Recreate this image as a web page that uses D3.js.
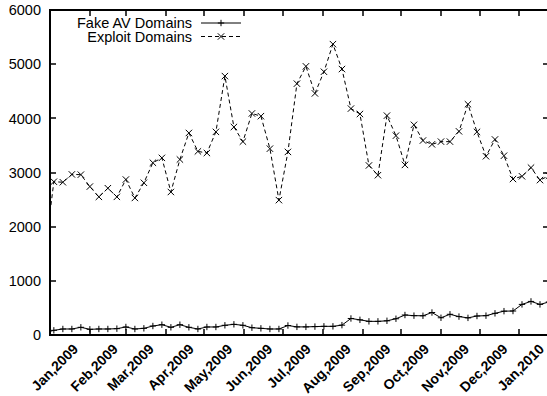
<!DOCTYPE html>
<html>
<head>
<meta charset="utf-8">
<script src="https://cdn.jsdelivr.net/npm/d3@7"></script>
<style>
  body { margin: 0; background: #fff; }
  svg { display: block; }
</style>
</head>
<body>
<svg id="chart" width="547" height="396"></svg>
<script>
// Weekly samples (Sundays)
const weeks = [
  "2008-12-28",
  "2009-01-04","2009-01-11","2009-01-18","2009-01-25",
  "2009-02-01","2009-02-08","2009-02-15","2009-02-22",
  "2009-03-01","2009-03-08","2009-03-15","2009-03-22","2009-03-29",
  "2009-04-05","2009-04-12","2009-04-19","2009-04-26",
  "2009-05-03","2009-05-10","2009-05-17","2009-05-24","2009-05-31",
  "2009-06-07","2009-06-14","2009-06-21","2009-06-28",
  "2009-07-05","2009-07-12","2009-07-19","2009-07-26",
  "2009-08-02","2009-08-09","2009-08-16","2009-08-23","2009-08-30",
  "2009-09-06","2009-09-13","2009-09-20","2009-09-27",
  "2009-10-04","2009-10-11","2009-10-18","2009-10-25",
  "2009-11-01","2009-11-08","2009-11-15","2009-11-22","2009-11-29",
  "2009-12-06","2009-12-13","2009-12-20","2009-12-27",
  "2010-01-03","2010-01-10","2010-01-17","2010-01-24"
];

const fakeAV = [
  40,
  86, 111, 111, 142,
  105, 111, 111, 117,
  148, 111, 123, 166, 190,
  142, 190, 142, 111,
  148, 148, 179, 197, 179,
  135, 123, 111, 111,
  175, 150, 150, 155,
  160, 160, 182, 305, 280,
  252, 252, 262, 300,
  369, 357, 355, 415,
  318, 382, 340, 316, 351,
  357, 400, 440, 443,
  565, 620, 565, 610
];

const exploit = [
  1500,
  2830, 2820, 2965, 2960,
  2740, 2550, 2710, 2550,
  2870, 2530, 2810, 3180, 3270,
  2640, 3240, 3730, 3390,
  3360, 3750, 4780, 3840, 3570,
  4090, 4040, 3440, 2490,
  3380, 4640, 4960, 4460,
  4860, 5370, 4910, 4180, 4080,
  3130, 2950, 4050, 3680,
  3140, 3880, 3590, 3520,
  3570, 3570, 3760, 4260, 3750,
  3300, 3610, 3310, 2880,
  2930, 3090, 2860, 2940
];

const seriesNames = ["Fake AV Domains", "Exploit Domains"];

const monthTicks = [
  "2009-01-01","2009-02-01","2009-03-01","2009-04-01","2009-05-01","2009-06-01",
  "2009-07-01","2009-08-01","2009-09-01","2009-10-01","2009-11-01","2009-12-01","2010-01-01"
];
const monthLabels = [
  "Jan,2009","Feb,2009","Mar,2009","Apr,2009","May,2009","Jun,2009",
  "Jul,2009","Aug,2009","Sep,2009","Oct,2009","Nov,2009","Dec,2009","Jan,2010"
];
const yTicks = [0, 1000, 2000, 3000, 4000, 5000, 6000];
const xRange = ["2009-01-01", "2010-01-24"];
const yRange = [0, 6000];

const parse = d3.timeParse("%Y-%m-%d");
const dates = weeks.map(parse);

const W = 547;
const L = 50, R = 549, T = 10, B = 335;
const x = d3.scaleTime().domain(xRange.map(parse)).range([L, R]);
const y = d3.scaleLinear().domain(yRange).range([B, T]);

const svg = d3.select("#chart");
const font = "'Liberation Sans', Arial, Helvetica, sans-serif";

svg.append("defs").append("clipPath").attr("id", "plot-clip")
  .append("rect").attr("x", L).attr("y", T).attr("width", R - L).attr("height", B - T);

// Tick marks (inward, mirrored on all four sides)
const tickLen = 6;
const ticks = svg.append("g").attr("stroke", "#000").attr("stroke-width", 1.5);
monthTicks.map(parse).forEach(d => {
  const px = Math.round(x(d));
  ticks.append("line").attr("x1", px).attr("x2", px).attr("y1", B).attr("y2", B - tickLen);
  ticks.append("line").attr("x1", px).attr("x2", px).attr("y1", T).attr("y2", T + tickLen);
});
yTicks.forEach(v => {
  const py = Math.round(y(v));
  ticks.append("line").attr("x1", L).attr("x2", L + tickLen).attr("y1", py).attr("y2", py);
  ticks.append("line").attr("x1", R).attr("x2", R - tickLen).attr("y1", py).attr("y2", py);
});

// Y tick labels
svg.append("g").selectAll("text").data(yTicks).join("text")
  .attr("x", 41).attr("y", d => y(d))
  .attr("dy", "0.36em")
  .attr("text-anchor", "end")
  .attr("font-family", font).attr("font-size", 14.5)
  .attr("fill", "#000")
  .text(d => d);

// X tick labels, rotated; the last one is kept inside the canvas
svg.append("g").selectAll("text").data(monthTicks.map(parse)).join("text")
  .attr("transform", d => `translate(${Math.min(x(d) + 29, W - 2)},${B + 15}) rotate(-45)`)
  .attr("text-anchor", "end")
  .attr("font-family", font).attr("font-size", 14).attr("font-weight", "bold")
  .attr("fill", "#000")
  .text((d, i) => monthLabels[i]);

// Series lines
const line = d3.line().x((d, i) => x(dates[i])).y(d => y(d));
const plot = svg.append("g").attr("clip-path", "url(#plot-clip)");
plot.append("path").datum(fakeAV).attr("d", line)
  .attr("fill", "none").attr("stroke", "#000").attr("stroke-width", 1);
plot.append("path").datum(exploit).attr("d", line)
  .attr("fill", "none").attr("stroke", "#000").attr("stroke-width", 1)
  .attr("stroke-dasharray", "4,3");

// Point markers
const inRange = i => dates[i] >= x.domain()[0] && dates[i] <= x.domain()[1];
const s = 3.2;
const plusPath = (cx, cy) => `M${cx - s},${cy}H${cx + s}M${cx},${cy - s}V${cy + s}`;
const crossPath = (cx, cy) => `M${cx - s},${cy - s}L${cx + s},${cy + s}M${cx - s},${cy + s}L${cx + s},${cy - s}`;
svg.append("g").selectAll("path").data(fakeAV.map((v, i) => [v, i]).filter(d => inRange(d[1]))).join("path")
  .attr("d", d => plusPath(x(dates[d[1]]), y(d[0])))
  .attr("stroke", "#000").attr("stroke-width", 1).attr("fill", "none");
svg.append("g").selectAll("path").data(exploit.map((v, i) => [v, i]).filter(d => inRange(d[1]))).join("path")
  .attr("d", d => crossPath(x(dates[d[1]]), y(d[0])))
  .attr("stroke", "#000").attr("stroke-width", 1).attr("fill", "none");

// Border
svg.append("rect").attr("x", L).attr("y", T).attr("width", R - L).attr("height", B - T)
  .attr("fill", "none").attr("stroke", "#000").attr("stroke-width", 2);

// Legend
const legend = svg.append("g");
const legendRows = [
  { name: seriesNames[0], y: 23, dash: null, marker: plusPath },
  { name: seriesNames[1], y: 36.5, dash: "4,3", marker: crossPath }
];
legendRows.forEach(r => {
  legend.append("text").attr("x", 192).attr("y", r.y).attr("dy", "0.36em")
    .attr("text-anchor", "end")
    .attr("font-family", font).attr("font-size", 14.5).attr("fill", "#000")
    .text(r.name);
  legend.append("line").attr("x1", 201).attr("x2", 241).attr("y1", r.y).attr("y2", r.y)
    .attr("stroke", "#000").attr("stroke-width", 1)
    .attr("stroke-dasharray", r.dash);
  legend.append("path").attr("d", r.marker(221, r.y))
    .attr("stroke", "#000").attr("stroke-width", 1).attr("fill", "none");
});
</script>
</body>
</html>
